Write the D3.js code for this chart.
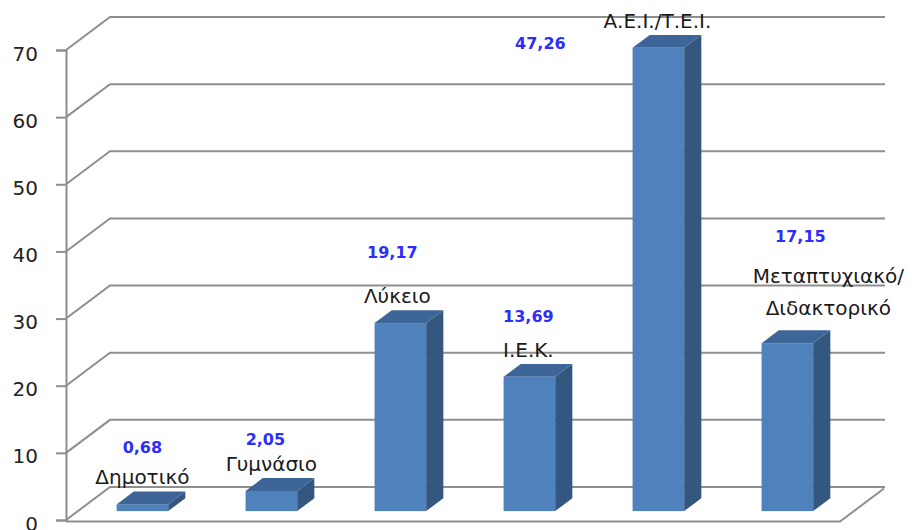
<!DOCTYPE html>
<html>
<head>
<meta charset="utf-8">
<script src="https://cdn.jsdelivr.net/npm/d3@7"></script>
<style>
  html, body { margin: 0; padding: 0; background: #fff; }
  svg { display: block; }
</style>
</head>
<body>
<svg id="chart" width="912" height="530"></svg>
<script>
// ---- data ----
const categories = ["Δημοτικό", "Γυμνάσιο", "Λύκειο", "Ι.Ε.Κ.", "Α.Ε.Ι./Τ.Ε.Ι.", "Μεταπτυχιακό/\nΔιδακτορικό"];
const counts = [1, 3, 28, 20, 69, 25];
const percentLabels = ["0,68", "2,05", "19,17", "13,69", "47,26", "17,15"];
const yTicks = [0, 10, 20, 30, 40, 50, 60, 70];

// ---- layout ----
const svg = d3.select("#chart");
const W = 912, H = 530;
const x0 = 66, x1 = 840;
const depthX = 44, depthY = -33;          // full floor depth projection
const barZ0 = 0.27, barZ1 = 0.66;          // bar depth within the floor

const y = d3.scaleLinear().domain([0, 70]).range([520, 50]);
const x = d3.scaleBand().domain(categories).range([x0, x1])
  .paddingInner(0.6).paddingOuter(0.3);

const gridColor = "#8e8e8e";

// back-wall gridlines (with the diagonal on the side wall)
const g = svg.append("g");
g.selectAll("path.grid").data(yTicks).enter().append("path")
  .attr("class", "grid")
  .attr("d", t => {
    const yy = y(t);
    return `M${x0},${yy} L${x0 + depthX},${yy + depthY} L${885},${yy + depthY}`;
  })
  .attr("fill", "none").attr("stroke", gridColor).attr("stroke-width", 2);

// floor
g.append("path")
  .attr("d", `M${x0},${y(0) + 1.5} L${x1},${y(0) + 1.5} L${x1 + depthX},${y(0) + 1.5 + depthY}`)
  .attr("fill", "none").attr("stroke", gridColor).attr("stroke-width", 2);

// vertical axis
const axis = d3.axisLeft(y).tickValues(yTicks).tickSize(10).tickPadding(18).tickFormat(d3.format("d"));
const ax = svg.append("g").attr("transform", `translate(${x0},0)`).call(axis);
ax.select(".domain").attr("stroke", gridColor).attr("stroke-width", 2);
ax.selectAll(".tick line").attr("stroke", gridColor).attr("stroke-width", 2);
ax.selectAll(".tick text")
  .attr("font-family", "DejaVu Sans, sans-serif")
  .attr("font-size", 20)
  .attr("fill", "#222")
  .attr("dy", "0.5em");

// bars
const bdx = depthX * (barZ1 - barZ0), bdy = depthY * (barZ1 - barZ0);
const shiftX = depthX * barZ0, shiftY = depthY * barZ0;
const bw = x.bandwidth();

const bars = svg.append("g").selectAll("g.bar").data(categories).enter().append("g").attr("class", "bar");
bars.each(function (c, i) {
  const gb = d3.select(this);
  const left = x(c) + shiftX, right = left + bw;
  const top = y(counts[i]) + shiftY, bottom = y(0) + shiftY;
  gb.append("rect").attr("x", left).attr("y", top).attr("width", bw).attr("height", bottom - top)
    .attr("fill", "#4f81bd");
  gb.append("path")
    .attr("d", `M${right},${top} L${right + bdx},${top + bdy} L${right + bdx},${bottom + bdy} L${right},${bottom} Z`)
    .attr("fill", "#34577f");
  gb.append("path")
    .attr("d", `M${left},${top} L${left + bdx},${top + bdy} L${right + bdx},${top + bdy} L${right},${top} Z`)
    .attr("fill", "#3d6597");
});

// labels
const nameNudge = [[0, 0], [0, 0], [-3, 0], [-1, 0], [-1, 0], [41, -8]];
const valueNudge = [[0, -51], [-6, -46], [-8, -65], [-1, -55], [-118, 1], [13, -101]];
const labels = svg.append("g");
categories.forEach((c, i) => {
  const cx = x(c) + shiftX + bw / 2;
  const top = y(counts[i]) + shiftY;
  const lines = c.split("\n");
  const lh = 32;
  const t = labels.append("text")
    .attr("font-family", "DejaVu Sans, sans-serif")
    .attr("font-size", 20)
    .attr("fill", "#1a1a1a")
    .attr("text-anchor", "middle");
  lines.forEach((ln, k) => {
    t.append("tspan")
      .attr("x", cx + nameNudge[i][0])
      .attr("y", top - 20 + nameNudge[i][1] - (lines.length - 1 - k) * lh)
      .text(ln);
  });
  labels.append("text")
    .attr("x", cx + valueNudge[i][0])
    .attr("y", top + valueNudge[i][1])
    .attr("font-family", "DejaVu Sans, sans-serif")
    .attr("font-size", 16)
    .attr("font-weight", "bold")
    .attr("fill", "#2d2dff")
    .attr("text-anchor", "middle")
    .text(percentLabels[i]);
});
</script>
</body>
</html>
